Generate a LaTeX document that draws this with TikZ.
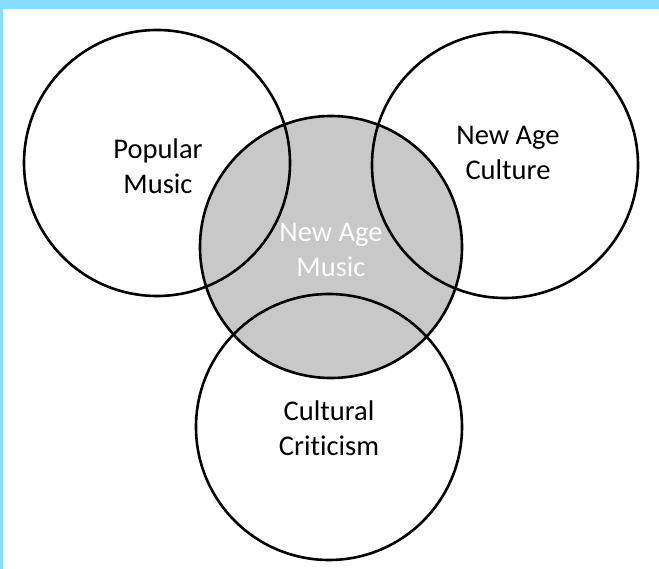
\documentclass[tikz,border=0pt]{standalone}
\usepackage{fontspec}
\setmainfont{Carlito}[Ligatures=NoCommon]
\usetikzlibrary{backgrounds}

\definecolor{framecyan}{RGB}{135,221,255}
\definecolor{venngray}{RGB}{200,200,200}

\begin{document}
\begin{tikzpicture}[x=1pt, y=-1pt,
	circ/.style={line width=2.6pt, color=black},
	lbl/.style={align=center, font=\fontsize{28.5}{35}\selectfont, inner sep=0pt}]

	\useasboundingbox (0,0) rectangle (659,569);

	% frame (top and left strips)
	\fill[framecyan] (0,0) rectangle (659,9);
	\fill[framecyan] (0,0) rectangle (3,569);

	% shaded centre circle
	\fill[venngray] (331,247) circle (131);
	\draw[circ] (331,247) circle (131);

	% outer circles
	\draw[circ] (157,163) circle (133);
	\draw[circ] (505,165) circle (133);
	\draw[circ] (329,427) circle (133);

	% Text nodes
	\node[lbl] (pop) at (158,166) {Popular\\Music};
	\node[lbl] (cult) at (508,153) {New Age\\Culture};
	\node[lbl, text=white] (nam) at (331,250) {New Age\\Music};
	\node[lbl] (crit) at (329,428) {Cultural\\Criticism};
\end{tikzpicture}
\end{document}
